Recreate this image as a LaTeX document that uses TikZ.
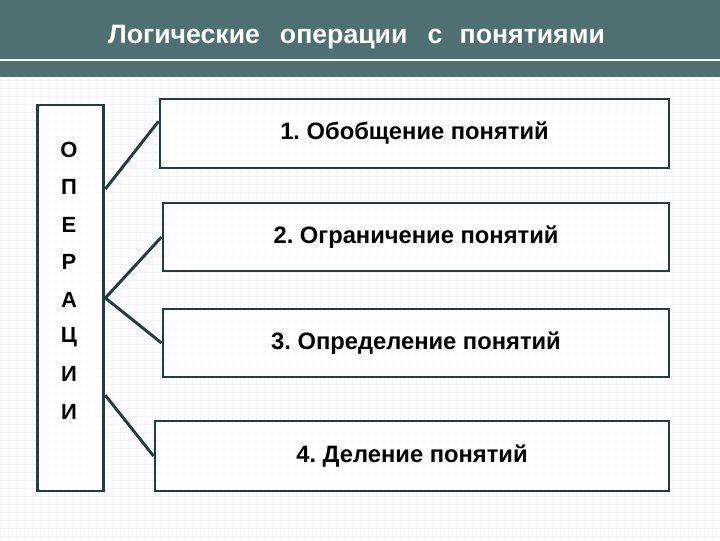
\documentclass[tikz,border=0pt]{standalone}
\usepackage{fontspec}
\setmainfont{Liberation Sans}
\usepackage{tikz}
\usetikzlibrary{calc}
\definecolor{header}{RGB}{79,111,115}
\definecolor{frame}{RGB}{36,60,59}
\definecolor{gridline}{RGB}{244,245,251}
\frenchspacing

\begin{document}
\begin{tikzpicture}[
        x=0.75pt, y=-0.75pt,
        opbox/.style={rectangle, draw=frame, line width=2.2pt, fill=white, fill opacity=0.6, text opacity=1, align=center, font=\bfseries\fontsize{17.8}{21}\selectfont, inner sep=0pt},
        letter/.style={font=\bfseries\fontsize{16.5}{19}\selectfont, inner sep=0pt},
        link/.style={draw=frame, line width=2.2pt}
    ]
        \useasboundingbox (0,0) rectangle (720,540);
        % Фон и заголовок
        \fill[white] (0,0) rectangle (720,540);
        \draw[gridline, line width=0.4pt, step=6pt] (0,78) grid (720,540);
        \fill[header] (0,0) rectangle (720,77);
        \draw[white, line width=1.1pt] (0,60) -- (720,60);
        \node[text=white, font=\bfseries\fontsize{20}{24}\selectfont] (title) at (356.5,37)
            {Логические\hspace{15pt}операции\hspace{15pt}с\hspace{13pt}понятиями};

        % Левый столбец
        \node[opbox, minimum width=50pt, minimum height=289.5pt] (ops) at (70.5,298) {};
        \foreach \l [count=\i] in {О,П,Е,Р,А,Ц,И,И}
            \node[letter] (l\i) at (69,{150+37.4*(\i-1)}) {\l};

        % Операции
        \node[opbox, minimum width=381.75pt, minimum height=51.75pt] (b1) at (414.5,133.5) {1. Обобщение понятий};
        \node[opbox, minimum width=379.5pt, minimum height=51pt] (b2) at (416,237) {2. Ограничение понятий};
        \node[opbox, minimum width=379.5pt, minimum height=51pt] (b3) at (416,343) {3. Определение понятий};
        \node[opbox, minimum width=385.5pt, minimum height=52.5pt] (b4) at (412,456) {4. Деление понятий};

        % Связи
        \draw[link] ($(ops.north east)!0.22!(ops.south east)$) -- ($(b1.north west)!0.33!(b1.south west)$);
        \draw[link] (ops.east) -- (b2.west);
        \draw[link] (ops.east) -- (b3.west);
        \draw[link] ($(ops.north east)!0.75!(ops.south east)$) -- (b4.west);
    \end{tikzpicture}
\end{document}
